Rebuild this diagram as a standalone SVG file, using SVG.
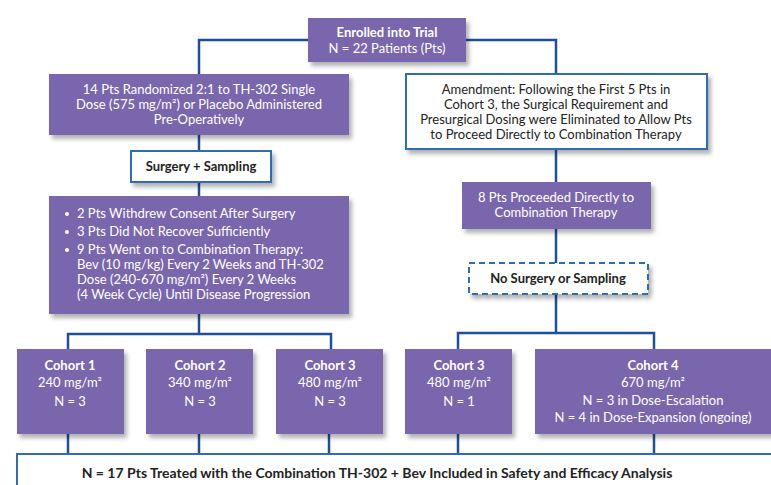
<svg xmlns="http://www.w3.org/2000/svg" width="771" height="485" viewBox="0 0 771 485">
<defs>
<filter id="sh" x="-10%" y="-10%" width="130%" height="140%">
<feDropShadow dx="3" dy="4" stdDeviation="2" flood-color="#000" flood-opacity="0.3"/>
</filter>
<style>
.p{fill:#7A66AD;filter:url(#sh)}
.w{fill:#fff;stroke:#2E6DB4;stroke-width:2;filter:url(#sh)}
.d{fill:#fff;stroke:#2E6DB4;stroke-width:2;stroke-dasharray:6 4;filter:url(#sh)}
.c{fill:none;stroke:#1C4F9C;stroke-width:2.5}
text{font-family:Lato,"Open Sans","Liberation Sans",sans-serif;font-size:13px;text-anchor:middle}
.t{fill:#fff}
.k{fill:#222}
.b{font-weight:bold}
.l{text-anchor:start}
.big{font-size:14px}
</style>
</defs>
<g id="connectors">
<path class="c" d="M308,40 H199 V74"/>
<path class="c" d="M466,40 H556 V74"/>
<path class="c" d="M199,135 V151"/>
<path class="c" d="M199,182 V196"/>
<path class="c" d="M199,314 V334"/>
<path class="c" d="M68,349 V334 H331 V349"/>
<path class="c" d="M556,149 V182"/>
<path class="c" d="M556,229 V263"/>
<path class="c" d="M556,294 V333"/>
<path class="c" d="M458,349 V333 H654 V349"/>
<path class="c" d="M68,434 V454"/>
<path class="c" d="M199,434 V454"/>
<path class="c" d="M329,434 V454"/>
<path class="c" d="M458,434 V454"/>
<path class="c" d="M654,434 V454"/>
</g>
<g id="enrolled">
<rect class="p" x="308" y="18" width="158" height="44"/>
<text class="t b" x="387" y="37">Enrolled into Trial</text>
<text class="t" x="387" y="53">N = 22 Patients (Pts)</text>
</g>
<g id="randomized">
<rect class="p" x="49" y="74" width="300" height="61"/>
<text class="t" x="199" y="94">14 Pts Randomized 2:1 to TH-302 Single</text>
<text class="t" x="199" y="109">Dose (575 mg/m²) or Placebo Administered</text>
<text class="t" x="199" y="124">Pre-Operatively</text>
</g>
<g id="surgery">
<rect class="w" x="131" y="151" width="140" height="31"/>
<text class="k b" x="201" y="171">Surgery + Sampling</text>
</g>
<g id="outcomes">
<rect class="p" x="49" y="196" width="300" height="118"/>
<circle class="t" cx="67" cy="214" r="2"/>
<circle class="t" cx="67" cy="232" r="2"/>
<circle class="t" cx="67" cy="250" r="2"/>
<text class="t l" x="77" y="218">2 Pts Withdrew Consent After Surgery</text>
<text class="t l" x="77" y="236">3 Pts Did Not Recover Sufficiently</text>
<text class="t l" x="77" y="254">9 Pts Went on to Combination Therapy:</text>
<text class="t l" x="77" y="269">Bev (10 mg/kg) Every 2 Weeks and TH-302</text>
<text class="t l" x="77" y="284">Dose (240-670 mg/m²) Every 2 Weeks</text>
<text class="t l" x="77" y="299">(4 Week Cycle) Until Disease Progression</text>
</g>
<g id="amendment">
<rect class="w" x="406" y="74" width="301" height="75"/>
<text class="k" x="556" y="94">Amendment: Following the First 5 Pts in</text>
<text class="k" x="556" y="109">Cohort 3, the Surgical Requirement and</text>
<text class="k" x="556" y="124">Presurgical Dosing were Eliminated to Allow Pts</text>
<text class="k" x="556" y="139">to Proceed Directly to Combination Therapy</text>
</g>
<g id="direct">
<rect class="p" x="462" y="182" width="189" height="47"/>
<text class="t" x="556" y="202">8 Pts Proceeded Directly to</text>
<text class="t" x="556" y="217">Combination Therapy</text>
</g>
<g id="nosurgery">
<rect class="d" x="469" y="263" width="179" height="31"/>
<text class="k b" x="558" y="283">No Surgery or Sampling</text>
</g>
<g id="cohort1">
<rect class="p" x="17" y="349" width="107" height="85"/>
<text class="t b" x="70" y="370">Cohort 1</text>
<text class="t" x="70" y="387">240 mg/m²</text>
<text class="t" x="70" y="406">N = 3</text>
</g>
<g id="cohort2">
<rect class="p" x="146" y="349" width="107" height="85"/>
<text class="t b" x="200" y="370">Cohort 2</text>
<text class="t" x="200" y="387">340 mg/m²</text>
<text class="t" x="200" y="406">N = 3</text>
</g>
<g id="cohort3a">
<rect class="p" x="276" y="349" width="107" height="85"/>
<text class="t b" x="330" y="370">Cohort 3</text>
<text class="t" x="330" y="387">480 mg/m²</text>
<text class="t" x="330" y="406">N = 3</text>
</g>
<g id="cohort3b">
<rect class="p" x="405" y="349" width="107" height="85"/>
<text class="t b" x="459" y="370">Cohort 3</text>
<text class="t" x="459" y="387">480 mg/m²</text>
<text class="t" x="459" y="406">N = 1</text>
</g>
<g id="cohort4">
<rect class="p" x="535" y="349" width="245" height="85"/>
<text class="t b" x="653" y="370">Cohort 4</text>
<text class="t" x="653" y="387">670 mg/m²</text>
<text class="t" x="653" y="405">N = 3 in Dose-Escalation</text>
<text class="t" x="653" y="422">N = 4 in Dose-Expansion (ongoing)</text>
</g>
<g id="analysis">
<rect class="w" x="17" y="454" width="770" height="50"/>
<text class="k b big" x="377" y="478">N = 17 Pts Treated with the Combination TH-302 + Bev Included in Safety and Efficacy Analysis</text>
</g>
</svg>
